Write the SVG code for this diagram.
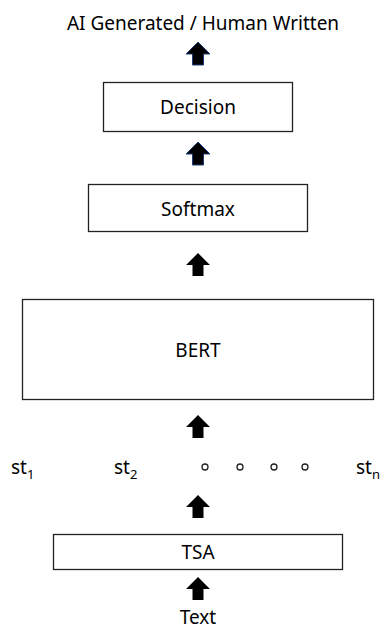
<svg xmlns="http://www.w3.org/2000/svg" width="383" height="631" viewBox="0 0 383 631">
<defs>
<style>
text{font-family:"Noto Sans","Open Sans","DejaVu Sans",sans-serif;font-size:19px;fill:#000;text-anchor:middle}
.box{fill:#fff;stroke:#222;stroke-width:1.3}
.arr{fill:#000}
.arrb{fill:#000;stroke:#1f3b7a;stroke-width:1}
.dot{fill:none;stroke:#222;stroke-width:1.3}
.st{text-anchor:start}
.sub{font-size:13px}
</style>
<path id="up" d="M0,0 L12,12 L5.5,12 L5.5,23 L-5.5,23 L-5.5,12 L-12,12 Z"/>
</defs>
<rect width="383" height="631" fill="#fff"/>
<g id="output"><text x="203" y="30">AI Generated / Human Written</text></g>
<g id="decision"><rect class="box" x="103.5" y="82.5" width="189" height="49"/><text x="198" y="114">Decision</text></g>
<g id="softmax"><rect class="box" x="88.5" y="184.5" width="219" height="47"/><text x="198" y="216">Softmax</text></g>
<g id="bert"><rect class="box" x="22.5" y="299.5" width="351" height="100"/><text x="198" y="357">BERT</text></g>
<g id="tokens">
<text class="st" x="11" y="474">st<tspan class="sub" dy="5">1</tspan></text>
<text class="st" x="114" y="474">st<tspan class="sub" dy="5">2</tspan></text>
<circle class="dot" cx="205" cy="467" r="3"/>
<circle class="dot" cx="240" cy="467" r="3"/>
<circle class="dot" cx="274" cy="467" r="3"/>
<circle class="dot" cx="305" cy="467" r="3"/>
<text class="st" x="356" y="474">st<tspan class="sub" dy="5">n</tspan></text>
</g>
<g id="tsa"><rect class="box" x="53.5" y="534.5" width="289" height="35"/><text x="198" y="559">TSA</text></g>
<g id="input"><text x="198" y="624">Text</text></g>
<g id="connectors">
<use href="#up" class="arrb" x="198" y="42"/>
<use href="#up" class="arrb" x="198" y="142"/>
<use href="#up" class="arr" x="198" y="253"/>
<use href="#up" class="arr" x="198" y="415"/>
<use href="#up" class="arr" x="198" y="495"/>
<use href="#up" class="arr" x="198" y="577"/>
</g>
</svg>
